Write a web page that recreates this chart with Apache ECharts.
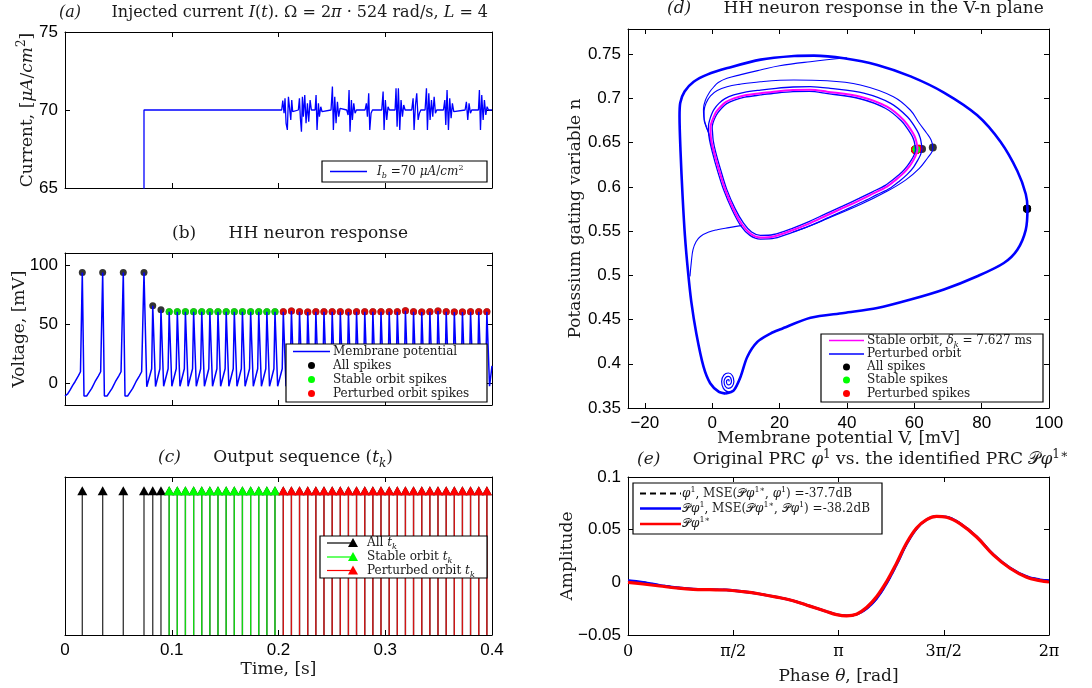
<!DOCTYPE html>
<html>
<head>
<meta charset="utf-8">
<script src="https://cdn.jsdelivr.net/npm/echarts@6/dist/echarts.min.js"></script>
<style>
  html, body { margin: 0; padding: 0; background: #fff; }
  #chart { width: 1092px; height: 688px; }
</style>
</head>
<body>
<div id="chart"></div>
<script>
// ---------------- data ----------------
// (a) injected current I(t), [t (s), I (uA/cm^2)]
const currentTrace = [
  [0, 0], [0.0740, 0], [0.0740, 70], [0.2030, 70],
  [0.2040, 70.60], [0.2052, 69.79], [0.2061, 70.75], [0.2071, 69.15], [0.2083, 68.72], [0.2093, 70.85], [0.2102, 70.96], [0.2115, 69.36], [0.2124, 70.64], [0.2133, 69.89], [0.2140, 70],
  [0.2186, 70], [0.2196, 70.75], [0.2205, 69.47], [0.2215, 68.61], [0.2224, 70.85], [0.2233, 69.57], [0.2246, 70.96], [0.2258, 69.15], [0.2271, 70.43], [0.2283, 69.25], [0.2296, 70.64], [0.2308, 70],
  [0.2343, 70], [0.2352, 70.96], [0.2361, 68.72], [0.2374, 70.43], [0.2383, 69.57], [0.2396, 70.21], [0.2408, 69.89], [0.2421, 70],
  [0.2492, 70], [0.2505, 71.50], [0.2514, 68.72], [0.2527, 70.85], [0.2539, 69.15], [0.2552, 70.53], [0.2564, 69.57], [0.2577, 70.11], [0.2589, 70],
  [0.2639, 70], [0.2652, 69.68], [0.2661, 71.28], [0.2670, 68.61], [0.2683, 70.64], [0.2692, 69.36], [0.2705, 70.43], [0.2717, 69.79], [0.2730, 70],
  [0.2811, 70], [0.2823, 70.43], [0.2833, 69.57], [0.2845, 71.07], [0.2855, 68.72], [0.2867, 69.79], [0.2880, 70],
  [0.2967, 70], [0.2980, 71.18], [0.2989, 68.72], [0.3001, 70.64], [0.3014, 69.36], [0.3026, 70.21], [0.3039, 70],
  [0.3092, 70], [0.3101, 71.39], [0.3111, 68.93], [0.3123, 71.39], [0.3136, 68.72], [0.3148, 70.64], [0.3161, 69.57], [0.3173, 70.32], [0.3186, 70],
  [0.3248, 70], [0.3261, 70.75], [0.3270, 68.72], [0.3283, 70.32], [0.3295, 71.07], [0.3308, 69.36], [0.3320, 69.79], [0.3333, 70],
  [0.3373, 70], [0.3386, 71.39], [0.3395, 68.72], [0.3408, 71.07], [0.3420, 69.36], [0.3433, 70.64], [0.3445, 69.57], [0.3458, 70.85], [0.3470, 69.79], [0.3482, 70],
  [0.3545, 70], [0.3558, 70.64], [0.3567, 69.04], [0.3579, 71.28], [0.3592, 68.72], [0.3604, 70.75], [0.3617, 69.47], [0.3629, 70.43], [0.3642, 69.89], [0.3654, 70],
  [0.3748, 70], [0.3760, 70.53], [0.3773, 69.36], [0.3785, 70.43], [0.3798, 69.79], [0.3810, 70],
  [0.3873, 70], [0.3882, 71.28], [0.3892, 68.72], [0.3904, 70.96], [0.3917, 69.36], [0.3929, 70.64], [0.3942, 69.68], [0.3954, 70.21], [0.3967, 70],
  [0.4000, 70]
];

// spike times (s), peak voltages (mV) and gating variable n at the peak
const transientSpikeT = [0.0162, 0.0353, 0.0546, 0.0740, 0.0822, 0.0899];
const transientSpikeV = [93.5, 93.5, 93.5, 93.5, 65.5, 62.3];
const transientSpikeN = [0.5752, 0.5752, 0.5752, 0.5752, 0.6445, 0.6430];

const stableSpikeT = [0.0976, 0.1052, 0.1128, 0.1205, 0.1281, 0.1357, 0.1433, 0.1510, 0.1586, 0.1662, 0.1739, 0.1815, 0.1891, 0.1967];
const stableSpikeV = [60.6, 60.6, 60.6, 60.6, 60.6, 60.6, 60.6, 60.6, 60.6, 60.6, 60.6, 60.6, 60.6, 60.6];
const stableSpikeN = [0.6425, 0.6425, 0.6425, 0.6425, 0.6425, 0.6425, 0.6425, 0.6425, 0.6425, 0.6425, 0.6425, 0.6425, 0.6425, 0.6425];

const perturbedSpikeT = [0.2045, 0.2121, 0.2197, 0.2274, 0.2350, 0.2426, 0.2503, 0.2579, 0.2655, 0.2731, 0.2808, 0.2884, 0.2960,
  0.3037, 0.3113, 0.3189, 0.3265, 0.3342, 0.3418, 0.3494, 0.3571, 0.3647, 0.3723, 0.3799, 0.3876, 0.3952];
const perturbedSpikeV = [60.6, 61.1, 60.6, 60.3, 60.6, 60.6, 60.6, 60.6, 60.3, 60.6, 60.6, 60.6, 60.6,
  60.6, 60.6, 61.4, 60.6, 60.3, 60.6, 61.1, 60.6, 60.3, 60.3, 60.6, 60.6, 60.6];
const perturbedSpikeN = [0.6424, 0.6428, 0.6424, 0.6421, 0.6424, 0.6424, 0.6424, 0.6424, 0.6421, 0.6424, 0.6424, 0.6424, 0.6424,
  0.6424, 0.6424, 0.6431, 0.6424, 0.6421, 0.6424, 0.6428, 0.6424, 0.6421, 0.6421, 0.6424, 0.6424, 0.6424];

// (b) membrane potential, [t (s), V (mV)]
const membraneTrace = [
  [0.0000, -10.4], [0.0025, -8.6], [0.0047, -5.5], [0.0072, -1.5], [0.0094, 1.6], [0.0125, 6.5], [0.0145, 10.0], [0.0158, 11.5], [0.0162, 93.5],
  [0.0178, -10.4], [0.0203, -10.4], [0.0219, -8.2], [0.0250, -4.0], [0.0281, 1.6], [0.0312, 6.4], [0.0334, 10.0], [0.0347, 11.5], [0.0353, 93.5],
  [0.0369, -10.4], [0.0394, -10.4], [0.0410, -8.2], [0.0441, -4.0], [0.0472, 1.6], [0.0503, 6.4], [0.0525, 10.0], [0.0540, 11.5], [0.0546, 93.5],
  [0.0562, -10.4], [0.0587, -10.4], [0.0603, -8.2], [0.0634, -4.0], [0.0665, 1.6], [0.0696, 6.4], [0.0718, 10.0], [0.0734, 11.5], [0.0740, 93.5],
  [0.0766, -2.6], [0.0812, 12.5], [0.0822, 65.5],
  [0.0848, -2.4], [0.0889, 12.5], [0.0899, 62.3],
  [0.0924, -2.2], [0.0966, 12.5], [0.0976, 60.6],
  [0.1001, -2.2], [0.1042, 12.5], [0.1052, 60.6],
  [0.1077, -2.2], [0.1118, 12.5], [0.1128, 60.6],
  [0.1153, -2.2], [0.1195, 12.5], [0.1205, 60.6],
  [0.1230, -2.2], [0.1271, 12.5], [0.1281, 60.6],
  [0.1306, -2.2], [0.1347, 12.5], [0.1357, 60.6],
  [0.1382, -2.2], [0.1423, 12.5], [0.1433, 60.6],
  [0.1458, -2.2], [0.1500, 12.5], [0.1510, 60.6],
  [0.1535, -2.2], [0.1576, 12.5], [0.1586, 60.6],
  [0.1611, -2.2], [0.1652, 12.5], [0.1662, 60.6],
  [0.1687, -2.2], [0.1729, 12.5], [0.1739, 60.6],
  [0.1764, -2.2], [0.1805, 12.5], [0.1815, 60.6],
  [0.1840, -2.2], [0.1881, 12.5], [0.1891, 60.6],
  [0.1916, -2.2], [0.1957, 12.5], [0.1967, 60.6],
  [0.1992, -2.2], [0.2035, 12.5], [0.2045, 60.6],
  [0.2070, -2.2], [0.2111, 12.5], [0.2121, 61.1],
  [0.2146, -2.2], [0.2187, 12.5], [0.2197, 60.6],
  [0.2222, -2.2], [0.2264, 12.5], [0.2274, 60.3],
  [0.2299, -2.2], [0.2340, 12.5], [0.2350, 60.6],
  [0.2375, -2.2], [0.2416, 12.5], [0.2426, 60.6],
  [0.2451, -2.2], [0.2493, 12.5], [0.2503, 60.6],
  [0.2528, -2.2], [0.2569, 12.5], [0.2579, 60.6],
  [0.2604, -2.2], [0.2645, 12.5], [0.2655, 60.3],
  [0.2680, -2.2], [0.2721, 12.5], [0.2731, 60.6],
  [0.2756, -2.2], [0.2798, 12.5], [0.2808, 60.6],
  [0.2833, -2.2], [0.2874, 12.5], [0.2884, 60.6],
  [0.2909, -2.2], [0.2950, 12.5], [0.2960, 60.6],
  [0.2985, -2.2], [0.3027, 12.5], [0.3037, 60.6],
  [0.3062, -2.2], [0.3103, 12.5], [0.3113, 60.6],
  [0.3138, -2.2], [0.3179, 12.5], [0.3189, 61.4],
  [0.3214, -2.2], [0.3255, 12.5], [0.3265, 60.6],
  [0.3290, -2.2], [0.3332, 12.5], [0.3342, 60.3],
  [0.3367, -2.2], [0.3408, 12.5], [0.3418, 60.6],
  [0.3443, -2.2], [0.3484, 12.5], [0.3494, 61.1],
  [0.3519, -2.2], [0.3561, 12.5], [0.3571, 60.6],
  [0.3596, -2.2], [0.3637, 12.5], [0.3647, 60.3],
  [0.3672, -2.2], [0.3713, 12.5], [0.3723, 60.3],
  [0.3748, -2.2], [0.3789, 12.5], [0.3799, 60.6],
  [0.3824, -2.2], [0.3866, 12.5], [0.3876, 60.6],
  [0.3901, -2.2], [0.3942, 12.5], [0.3952, 60.6],
  [0.3977, -2.2], [0.4000, 15.0]
];

// (c) every spike time is drawn as a unit-height stem
const stemHeight = 1;

// (d) trajectories in the V-n plane, [V (mV), n]
const stableOrbit = [
  [61.0, 0.6425], [60.5, 0.6530], [59.6, 0.6610], [56.8, 0.6757], [51.9, 0.6907], [44.0, 0.7020], [34.1, 0.7077], [29.1, 0.7100],
  [24.0, 0.7095], [19.0, 0.7080], [14.3, 0.7059], [9.5, 0.7035], [6.4, 0.7002], [4.0, 0.6960], [2.5, 0.6907], [1.2, 0.6850],
  [0.5, 0.6795], [-0.2, 0.6730], [-0.5, 0.6682], [-0.5, 0.6625], [-0.3, 0.6532], [0.5, 0.6400], [2.0, 0.6193], [3.9, 0.5967],
  [6.4, 0.5742], [8.9, 0.5572], [11.4, 0.5471], [14.3, 0.5429], [18.3, 0.5440], [24.2, 0.5516], [29.1, 0.5591], [34.1, 0.5680],
  [39.0, 0.5765], [44.0, 0.5854], [48.0, 0.5930], [51.9, 0.6004], [54.5, 0.6080], [56.8, 0.6156], [58.6, 0.6235], [59.8, 0.6306],
  [60.6, 0.6370], [61.0, 0.6425]
];
const perturbedLoopOuter = [
  [62.3, 0.6430], [61.8, 0.6550], [60.8, 0.6640], [58.0, 0.6790], [53.0, 0.6945], [45.0, 0.7060], [35.0, 0.7115], [29.1, 0.7135],
  [24.0, 0.7130], [19.0, 0.7115], [14.3, 0.7095], [9.5, 0.7070], [6.4, 0.7040], [3.8, 0.6998], [2.0, 0.6945], [0.6, 0.6880],
  [-0.2, 0.6820], [-0.8, 0.6750], [-1.1, 0.6690], [-1.1, 0.6625], [-0.8, 0.6532], [0.0, 0.6400], [1.5, 0.6193], [3.4, 0.5967],
  [5.9, 0.5742], [8.5, 0.5560], [11.2, 0.5452], [14.3, 0.5410], [18.5, 0.5420], [24.5, 0.5495], [29.5, 0.5568], [34.6, 0.5655],
  [39.6, 0.5742], [44.7, 0.5832], [48.8, 0.5910], [52.8, 0.5985], [55.5, 0.6062], [57.9, 0.6142], [59.8, 0.6225], [61.0, 0.6300],
  [61.9, 0.6368], [62.3, 0.6430]
];
const perturbedLoopInner = [
  [60.4, 0.6422], [59.9, 0.6525], [59.0, 0.6600], [56.2, 0.6745], [51.4, 0.6890], [43.6, 0.7000], [33.8, 0.7058], [28.9, 0.7080],
  [24.0, 0.7078], [19.0, 0.7062], [14.4, 0.7040], [9.7, 0.7015], [6.6, 0.6982], [4.3, 0.6942], [2.8, 0.6890], [1.6, 0.6835],
  [0.8, 0.6780], [0.2, 0.6720], [0.0, 0.6670], [0.1, 0.6615], [0.3, 0.6525], [1.0, 0.6400], [2.5, 0.6195], [4.3, 0.5975],
  [6.8, 0.5755], [9.3, 0.5590], [11.7, 0.5490], [14.3, 0.5452], [18.2, 0.5462], [24.0, 0.5535], [28.9, 0.5610], [33.8, 0.5698],
  [38.7, 0.5782], [43.6, 0.5870], [47.6, 0.5945], [51.4, 0.6018], [54.0, 0.6092], [56.3, 0.6165], [58.0, 0.6240], [59.2, 0.6308],
  [60.0, 0.6368], [60.4, 0.6422]
];
const wideLoop = [
  [24.0, 0.5490], [29.1, 0.5560], [34.1, 0.5640], [44.0, 0.5800], [51.9, 0.5950], [57.5, 0.6080], [61.5, 0.6210], [64.0, 0.6330],
  [65.3, 0.6400], [65.5, 0.6445], [65.0, 0.6530], [63.7, 0.6607], [61.5, 0.6720], [58.8, 0.6870], [53.8, 0.7020], [44.0, 0.7152],
  [34.1, 0.7201], [24.2, 0.7209], [14.3, 0.7190], [8.0, 0.7160], [4.4, 0.7133], [1.5, 0.7090], [-0.5, 0.7030], [-1.8, 0.6950],
  [-2.4, 0.6860], [-2.4, 0.6760], [-1.8, 0.6680], [-1.0, 0.6600], [-0.2, 0.6480], [1.0, 0.6320]
];
const switchPath = [
  [40.0, 0.7460], [29.1, 0.7416], [20.0, 0.7370], [14.3, 0.7322], [8.5, 0.7270], [4.4, 0.7228], [1.8, 0.7180], [0.5, 0.7133],
  [-0.8, 0.7070], [-2.0, 0.6983], [-2.6, 0.6880], [-2.5, 0.6795], [-1.9, 0.6700], [-1.0, 0.6607], [-0.4, 0.6520], [0.6, 0.6390]
];
const entryPath = [
  [-6.6, 0.4989], [-6.2, 0.5150], [-5.7, 0.5290], [-4.8, 0.5380], [-3.5, 0.5440], [-1.0, 0.5490], [1.5, 0.5516], [5.0, 0.5540], [8.9, 0.5565]
];
const restingSpiral = [
  [5.00, 0.3800], [5.01, 0.3811], [4.80, 0.3820], [4.47, 0.3817], [4.24, 0.3800], [4.34, 0.3776], [4.80, 0.3761], [5.39, 0.3769],
  [5.72, 0.3800], [5.51, 0.3838], [4.80, 0.3858], [3.96, 0.3844], [3.52, 0.3800], [3.83, 0.3749], [4.80, 0.3723], [5.90, 0.3742],
  [6.44, 0.3800], [6.02, 0.3865], [4.80, 0.3896], [3.45, 0.3872], [2.80, 0.3800], [3.32, 0.3722], [4.80, 0.3684], [6.40, 0.3700],
  [7.60, 0.3780], [8.40, 0.3851]
];
const largeCycle = [
  [4.0, 0.3663], [6.4, 0.3700], [8.4, 0.3851], [10.4, 0.4077], [13.4, 0.4247], [17.3, 0.4342], [20.3, 0.4390], [29.2, 0.4520],
  [39.1, 0.4575], [49.0, 0.4630], [58.9, 0.4726], [68.8, 0.4840], [78.7, 0.4990], [86.6, 0.5140], [90.6, 0.5290], [93.1, 0.5515],
  [93.6, 0.5752], [93.1, 0.5920], [90.6, 0.6180], [85.6, 0.6510], [78.7, 0.6810], [68.8, 0.7067], [58.9, 0.7250], [49.0, 0.7380],
  [39.1, 0.7456], [30.2, 0.7485], [24.3, 0.7480], [14.4, 0.7440], [4.5, 0.7344], [-1.5, 0.7270], [-5.5, 0.7190], [-8.2, 0.7080],
  [-9.5, 0.6950], [-9.7, 0.6800], [-9.4, 0.6400], [-8.8, 0.5900], [-8.1, 0.5450], [-7.2, 0.5050], [-6.2, 0.4700], [-4.7, 0.4340],
  [-2.6, 0.3970], [-0.6, 0.3780], [2.0, 0.3682], [4.0, 0.3663]
];

// (e) phase response curves
const prcTheta = [0, 0.224, 0.473, 0.722, 0.971, 1.220, 1.469, 1.718, 1.967, 2.216, 2.464, 2.713, 2.962, 3.112, 3.261,
  3.410, 3.560, 3.709, 3.858, 4.008, 4.157, 4.307, 4.456, 4.605, 4.755, 4.954, 5.203, 5.452, 5.701, 5.950, 6.149, 6.283];
const prcOriginal = [0.0015, 0.0000, -0.0027, -0.0050, -0.0064, -0.0069, -0.0072, -0.0088, -0.0110, -0.0139, -0.0174, -0.0225, -0.0276, -0.0305, -0.0317,
  -0.0304, -0.0249, -0.0154, -0.0011, 0.0169, 0.0363, 0.0511, 0.0594, 0.0627, 0.0620, 0.0560, 0.0433, 0.0265, 0.0138, 0.0055, 0.0025, 0.0015];
const prcProjected = [0.0016, 0.0000, -0.0027, -0.0050, -0.0064, -0.0069, -0.0072, -0.0088, -0.0110, -0.0139, -0.0174, -0.0225, -0.0276, -0.0305, -0.0317,
  -0.0304, -0.0250, -0.0155, -0.0012, 0.0168, 0.0362, 0.0510, 0.0594, 0.0627, 0.0620, 0.0560, 0.0433, 0.0265, 0.0138, 0.0055, 0.0025, 0.0016];
const prcIdentified = [0.0000, -0.0016, -0.0035, -0.0054, -0.0067, -0.0070, -0.0073, -0.0089, -0.0111, -0.0140, -0.0175, -0.0226, -0.0277, -0.0306, -0.0318,
  -0.0303, -0.0239, -0.0137, 0.0006, 0.0182, 0.0373, 0.0516, 0.0596, 0.0627, 0.0618, 0.0557, 0.0430, 0.0261, 0.0134, 0.0048, 0.0016, 0.0003];
const prcTickValues = [0, Math.PI / 2, Math.PI, 3 * Math.PI / 2, 2 * Math.PI];
const prcTickLabels = ['0', 'π/2', 'π', '3π/2', '2π'];

// tick positions for every panel
const timeTicks = [0, 0.1, 0.2, 0.3, 0.4];
const currentTicks = [65, 70, 75];
const voltageTicks = [0, 50, 100];
const vPlaneTicks = [-20, 0, 20, 40, 60, 80, 100];
const nPlaneTicks = [0.35, 0.4, 0.45, 0.5, 0.55, 0.6, 0.65, 0.7, 0.75];
const amplitudeTicks = [-0.05, 0, 0.05, 0.1];

// ---------------- styling helpers ----------------
const SANS = '"Liberation Sans", Arial, sans-serif';
const SERIF = '"DejaVu Serif", serif';
const TEXT = '#1a1a1a';
const BLUE = '#0000ff';

function richSet(size) {
  const small = Math.round(size * 0.68);
  const lh = Math.round(size * 1.35);
  return {
    i: { fontFamily: SERIF, fontStyle: 'italic', fontSize: size, lineHeight: lh, color: TEXT },
    sub: { fontFamily: SERIF, fontStyle: 'italic', fontSize: small, lineHeight: small + 1, verticalAlign: 'bottom', color: TEXT },
    sup: { fontFamily: SERIF, fontSize: small, lineHeight: small + 1, verticalAlign: 'top', color: TEXT }
  };
}

const minusSign = v => String(v).replace('-', '\u2212');

function frame(g, pos, c) {
  const main = pos === 'bottom' || pos === 'left';
  const isX = pos === 'bottom' || pos === 'top';
  const ax = {
    type: 'value', gridIndex: g, position: pos, min: c.min, max: c.max,
    axisLine: { show: true, onZero: false, lineStyle: { color: '#000', width: 1 } },
    axisTick: c.ticks ? { show: true, inside: true, length: 5, customValues: c.ticks, lineStyle: { color: '#000', width: 1 } } : { show: false },
    axisLabel: main && c.labels ? {
      show: true, customValues: c.ticks, formatter: c.formatter || minusSign,
      color: '#000', fontFamily: c.labelFont || SANS, fontSize: c.labelSize || 17, margin: c.margin || 7
    } : { show: false },
    splitLine: { show: false }
  };
  if (main && c.name) {
    Object.assign(ax, {
      name: c.name, nameLocation: 'middle', nameGap: c.nameGap, nameMoveOverlap: false,
      nameRotate: isX ? 0 : 90,
      nameTextStyle: { fontFamily: SERIF, fontSize: 17, color: TEXT, rich: richSet(17) }
    });
  }
  return ax;
}

const xAxes = [], yAxes = [];
function panelAxes(g, xc, yc) {
  xAxes.push(frame(g, 'bottom', xc));
  xAxes.push(frame(g, 'top', xc));
  yAxes.push(frame(g, 'left', yc));
  yAxes.push(frame(g, 'right', yc));
}

// (a)
panelAxes(0, { min: 0, max: 0.4, ticks: timeTicks },
  { min: 65, max: 75, ticks: currentTicks, labels: true, name: 'Current, [{i|μA}/{i|cm}{sup|2}]', nameGap: 26 });
// (b)
panelAxes(1, { min: 0, max: 0.4, ticks: timeTicks },
  { min: -18, max: 110, ticks: voltageTicks, labels: true, name: 'Voltage, [mV]', nameGap: 37 });
// (c)
panelAxes(2, { min: 0, max: 0.4, ticks: timeTicks, labels: true, name: 'Time, [s]', nameGap: 26 },
  { min: 0, max: 1.1 });
// (d)
panelAxes(3, { min: -25, max: 100, ticks: vPlaneTicks, labels: true, name: 'Membrane potential V, [mV]', nameGap: 22 },
  { min: 0.35, max: 0.7786, ticks: nPlaneTicks, labels: true, name: 'Potassium gating variable n', nameGap: 44 });
// (e)
panelAxes(4, {
  min: 0, max: 2 * Math.PI, ticks: prcTickValues, labels: true, labelFont: SERIF, labelSize: 16, margin: 9,
  formatter: v => prcTickLabels[prcTickValues.findIndex(p => Math.abs(p - v) < 1e-6)] || '',
  name: 'Phase {i|θ}, [rad]', nameGap: 30
}, { min: -0.05, max: 0.1, ticks: amplitudeTicks, labels: true, name: 'Amplitude', nameGap: 52 });

const grids = [
  { left: 65, top: 32, width: 427, height: 156 },
  { left: 65, top: 253, width: 427, height: 152 },
  { left: 65, top: 477, width: 427, height: 158 },
  { left: 628, top: 29, width: 421, height: 379 },
  { left: 628, top: 477, width: 421, height: 158 }
].map(g => Object.assign({ containLabel: false, show: false }, g));

// ---------------- series ----------------
const zip = (a, b) => a.map((v, i) => [v, b[i]]);
const allSpikeT = transientSpikeT.concat(stableSpikeT, perturbedSpikeT);
const allSpikeV = transientSpikeV.concat(stableSpikeV, perturbedSpikeV);
const allSpikeN = transientSpikeN.concat(stableSpikeN, perturbedSpikeN);

function onGrid(g, s) { return Object.assign({ xAxisIndex: 2 * g, yAxisIndex: 2 * g, animation: false }, s); }
function trace(g, data, color, width, extra) {
  return onGrid(g, Object.assign({
    type: 'line', data, showSymbol: false, symbol: 'none',
    lineStyle: { color, width }, itemStyle: { color }, silent: true
  }, extra || {}));
}
function dots(g, data, color, size) {
  return onGrid(g, { type: 'scatter', data, symbol: 'circle', symbolSize: size, itemStyle: { color }, silent: true });
}
function stems(times, stemColor, headColor) {
  return onGrid(2, {
    type: 'custom', data: times.map(t => [t, stemHeight]), encode: { x: 0, y: 1 }, clip: true, silent: true,
    renderItem: (params, api) => {
      const base = api.coord([api.value(0), 0]);
      const tip = api.coord([api.value(0), api.value(1)]);
      return {
        type: 'group', children: [
          { type: 'line', shape: { x1: base[0], y1: base[1], x2: tip[0], y2: tip[1] }, style: { stroke: stemColor, lineWidth: 1.3 } },
          { type: 'polygon', shape: { points: [[tip[0], tip[1] - 5], [tip[0] - 5, tip[1] + 4], [tip[0] + 5, tip[1] + 4]] }, style: { fill: headColor } }
        ]
      };
    }
  });
}

const series = [
  // (a)
  trace(0, currentTrace, BLUE, 1.3),
  // (b)
  trace(1, membraneTrace, BLUE, 1.5),
  dots(1, zip(allSpikeT, allSpikeV), '#000', 7),
  dots(1, zip(stableSpikeT, stableSpikeV), '#00ff00', 7),
  dots(1, zip(perturbedSpikeT, perturbedSpikeV), '#ff0000', 7),
  // (c)
  stems(allSpikeT, '#333', '#000'),
  stems(stableSpikeT, '#12d812', '#00ff00'),
  stems(perturbedSpikeT, '#d41414', '#ff0000'),
  // (d)
  trace(3, largeCycle, BLUE, 2.6, { smooth: 0.3 }),
  trace(3, restingSpiral, BLUE, 1.2, { smooth: 0.5 }),
  trace(3, entryPath, BLUE, 1.1, { smooth: 0.4 }),
  trace(3, switchPath, BLUE, 1.1, { smooth: 0.4 }),
  trace(3, wideLoop, BLUE, 1.1, { smooth: 0.4 }),
  trace(3, perturbedLoopOuter, BLUE, 1.3, { smooth: 0.3 }),
  trace(3, perturbedLoopInner, BLUE, 1.3, { smooth: 0.3 }),
  trace(3, stableOrbit, '#ff00ff', 2, { smooth: 0.3 }),
  dots(3, zip(allSpikeV, allSpikeN), '#000', 8),
  dots(3, zip(perturbedSpikeV, perturbedSpikeN), '#ff0000', 8),
  dots(3, zip(stableSpikeV, stableSpikeN), '#00ff00', 7),
  // (e)
  trace(4, zip(prcTheta, prcOriginal), '#000', 2, { smooth: 0.4, lineStyle: { color: '#000', width: 2, type: [7, 5] } }),
  trace(4, zip(prcTheta, prcProjected), BLUE, 2.6, { smooth: 0.4 }),
  trace(4, zip(prcTheta, prcIdentified), '#ff0000', 3.2, { smooth: 0.4 })
];

// ---------------- titles and legend boxes ----------------
function text(x, y, str, size, align) {
  return {
    type: 'text', x, y, z: 110, silent: true,
    style: {
      text: str, fontFamily: SERIF, fontSize: size, fill: TEXT, lineHeight: Math.round(size * 1.35),
      align: align || 'left', verticalAlign: 'middle', textAlign: align || 'left', textVerticalAlign: 'middle',
      rich: richSet(size)
    }
  };
}
function box(x, y, w, h) {
  return { type: 'rect', z: 100, silent: true, shape: { x, y, width: w, height: h }, style: { fill: '#fff', stroke: '#000', lineWidth: 1.2 } };
}
function sampleLine(x1, x2, y, color, width, dash) {
  return { type: 'line', z: 105, silent: true, shape: { x1, y1: y, x2, y2: y }, style: { stroke: color, lineWidth: width, lineDash: dash || null } };
}
function sampleDot(x, y, color) {
  return { type: 'circle', z: 105, silent: true, shape: { cx: x, cy: y, r: 3.5 }, style: { fill: color } };
}
function sampleTri(x, y, color) {
  return { type: 'polygon', z: 106, silent: true, shape: { points: [[x, y - 5], [x - 5, y + 4], [x + 5, y + 4]] }, style: { fill: color } };
}

const graphics = [
  // titles
  text(59, 13, '{i|(a)}      Injected current {i|I}({i|t}). Ω = 2{i|π} · 524 rad/s, {i|L} = 4', 16),
  text(172, 234, '(b)      HH neuron response', 17),
  text(158, 458, '{i|(c)}      Output sequence ({i|t}{sub|k})', 17),
  text(667, 9, '{i|(d)}      HH neuron response in the V-n plane', 17),
  text(637, 460, '{i|(e)}      Original PRC {i|φ}{sup|1} vs. the identified PRC 𝒫{i|φ}{sup|1∗}', 17),

  // (a) legend
  box(322, 161, 165, 21),
  sampleLine(330, 367, 171.5, BLUE, 1.3),
  text(377, 171.5, '{i|I}{sub|b} =70 {i|μA}/{i|cm}{sup|2}', 12),

  // (b) legend
  box(286, 344, 201, 58),
  sampleLine(293, 330, 351.5, BLUE, 1.5),
  sampleDot(311.5, 365.5, '#000'),
  sampleDot(311.5, 379.5, '#00ff00'),
  sampleDot(311.5, 393.5, '#ff0000'),
  text(333, 351.5, 'Membrane potential', 12),
  text(333, 365.5, 'All spikes', 12),
  text(333, 379.5, 'Stable orbit spikes', 12),
  text(333, 393.5, 'Perturbed orbit spikes', 12),

  // (c) legend
  box(320, 536, 167, 42),
  sampleLine(327, 353, 543, '#000', 1.2), sampleTri(353, 543, '#000'),
  sampleLine(327, 353, 557, '#00ff00', 1.2), sampleTri(353, 557, '#00ff00'),
  sampleLine(327, 353, 570.5, '#ff0000', 1.2), sampleTri(353, 570.5, '#ff0000'),
  text(367, 543, 'All {i|t}{sub|k}', 12),
  text(367, 557, 'Stable orbit {i|t}{sub|k}', 12),
  text(367, 570.5, 'Perturbed orbit {i|t}{sub|k}', 12),

  // (d) legend
  box(821, 334, 222, 68),
  sampleLine(829, 864, 340.5, '#ff00ff', 1.6),
  sampleLine(829, 864, 354, BLUE, 1.6),
  sampleDot(846.5, 367, '#000'),
  sampleDot(846.5, 380, '#00ff00'),
  sampleDot(846.5, 393.5, '#ff0000'),
  text(867, 340.5, 'Stable orbit, {i|δ}{sub|k} = 7.627 ms', 12),
  text(867, 354, 'Perturbed orbit', 12),
  text(867, 367, 'All spikes', 12),
  text(867, 380, 'Stable spikes', 12),
  text(867, 393.5, 'Perturbed spikes', 12),

  // (e) legend
  box(633, 483, 249, 51),
  sampleLine(640, 681, 493.5, '#000', 2.2, [6, 4]),
  sampleLine(640, 681, 508.5, BLUE, 2.4),
  sampleLine(640, 681, 524, '#ff0000', 2.4),
  text(682, 493.5, '{i|φ}{sup|1}, MSE(𝒫{i|φ}{sup|1∗}, {i|φ}{sup|1}) =-37.7dB', 12),
  text(682, 508.5, '𝒫{i|φ}{sup|1}, MSE(𝒫{i|φ}{sup|1∗}, 𝒫{i|φ}{sup|1}) =-38.2dB', 12),
  text(682, 524, '𝒫{i|φ}{sup|1∗}', 12)
];

const chart = echarts.init(document.getElementById('chart'), null, { renderer: 'canvas' });
chart.setOption({
  backgroundColor: '#fff',
  animation: false,
  grid: grids,
  xAxis: xAxes,
  yAxis: yAxes,
  series,
  graphic: graphics
});
</script>
</body>
</html>
